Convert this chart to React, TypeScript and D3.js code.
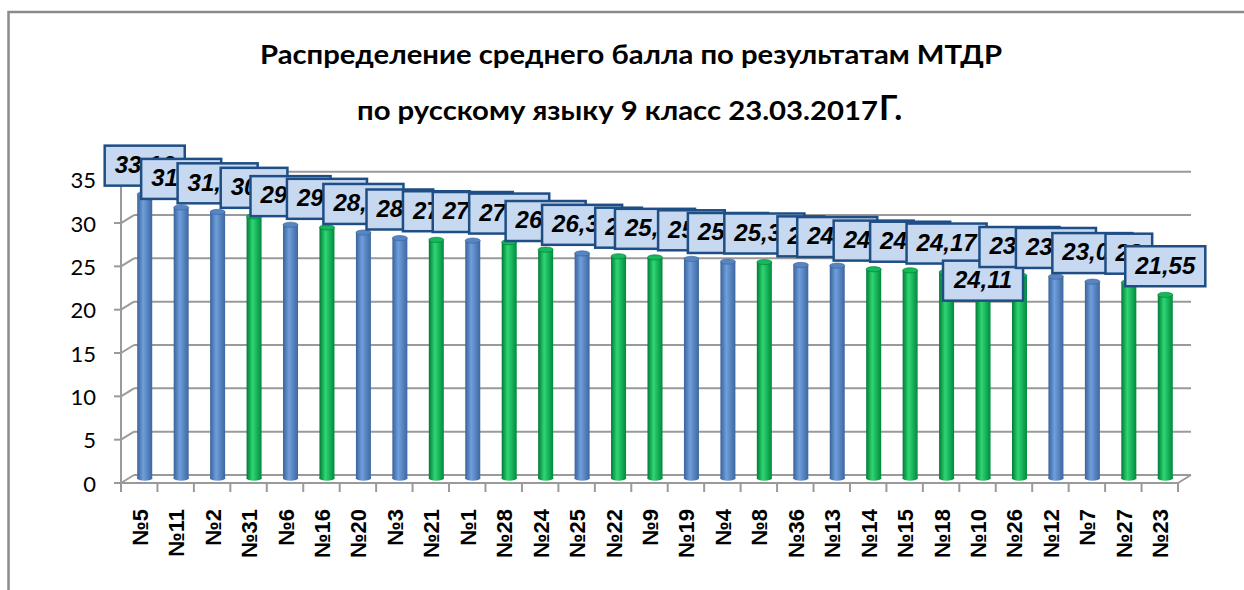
import React from "react";
import * as d3 from "d3";

const titleLine1 = "Распределение среднего балла по результатам МТДР";
const titleLine2 = "по русскому языку 9 класс 23.03.2017";
const titleSuffix = "Г.";

const categories = ["№5","№11","№2","№31","№6","№16","№20","№3","№21","№1","№28","№24","№25","№22","№9","№19","№4","№8","№36","№13","№14","№15","№18","№10","№26","№12","№7","№27","№23"];
const values = [33.16,31.63,31.12,30.6,29.64,29.33,28.74,28.1,27.9,27.81,27.63,26.77,26.33,26,25.87,25.7,25.39,25.33,25,24.92,24.51,24.38,24.17,24.11,23.77,23.66,23.07,23,21.55];
const groups = ["b","b","b","g","b","g","b","b","g","b","g","g","b","g","g","b","b","g","b","b","g","g","g","g","g","b","b","g","g"];
const yTicks = [0,5,10,15,20,25,30,35];
const insideLabels = ["№10"];

const W = 1244, H = 590;
const FS = 24;

function fmt(v: number) {
  return String(v).replace(".", ",");
}
function textW(s: string) {
  let w = 0;
  for (const ch of s) w += ch === "," ? 0.278 * FS : 0.556 * FS;
  return w;
}

export default function App() {
  const left = 121, right = 1178;
  const depthX = 13, depthY = -8;
  const x = d3.scaleBand<string>().domain(categories).range([left, right]).padding(0);
  const yFront = d3.scaleLinear().domain([0, 35]).range([483, 179.7]);
  const yBar = d3.scaleLinear().domain([0, 35]).range([481.6, 178.3]);
  const floorY = yFront(0) + depthY * 0.6;
  const bw = 15;
  const ry = 2.6;
  const barX = (c: string) => (x(c) as number) + x.bandwidth() / 2 + 5.5;
  const gridColor = "#9a9a9a";

  const colors: Record<string, { a: string; b: string; c: string; top: string }> = {
    b: { a: "#3a6299", b: "#6f9fdc", c: "#3d679f", top: "#5785c4" },
    g: { a: "#007a35", b: "#2fd673", c: "#008a3e", top: "#15b85a" },
  };

  return (
    <div style={{ position: "absolute", left: 0, top: 0 }}>
      <svg width={W} height={H} style={{ display: "block", background: "#fff" }}>
        <defs>
          {Object.entries(colors).map(([k, c]) => (
            <linearGradient key={k} id={`grad-${k}`} x1="0" x2="1" y1="0" y2="0">
              <stop offset="0%" stopColor={c.a} />
              <stop offset="40%" stopColor={c.b} />
              <stop offset="100%" stopColor={c.c} />
            </linearGradient>
          ))}
        </defs>
        {/* frame */}
        <path d={`M8.5,${H} L8.5,12 L${W},12`} fill="none" stroke="#8a8a8a" strokeWidth={2.5} />

        {/* title */}
        <text x={631} y={64} textAnchor="middle" fontFamily="Lato, 'Open Sans', sans-serif" fontWeight="bold" fontSize={27} textLength={742} lengthAdjust="spacingAndGlyphs">
          {titleLine1}
        </text>
        <text x={357} y={120} textAnchor="start" fontFamily="Lato, 'Open Sans', sans-serif" fontWeight="bold" fontSize={27} textLength={521} lengthAdjust="spacingAndGlyphs">
          {titleLine2}
        </text>
        <text x={879} y={120} textAnchor="start" fontFamily="Lato, 'Open Sans', sans-serif" fontWeight="bold" fontSize={34}>
          {titleSuffix}
        </text>

        {/* gridlines: side wall diagonals + back wall */}
        {yTicks.map((t) => (
          <g key={t}>
            <line x1={left - 7} x2={left} y1={yFront(t)} y2={yFront(t)} stroke={gridColor} strokeWidth={2} />
            <line x1={left} x2={left + depthX} y1={yFront(t)} y2={yFront(t) + depthY} stroke={gridColor} strokeWidth={2} />
            <line x1={left + depthX} x2={right + depthX} y1={yFront(t) + depthY} y2={yFront(t) + depthY} stroke={gridColor} strokeWidth={2} />
            <text x={96} y={yFront(t) + 3} textAnchor="end" dominantBaseline="middle" fontFamily="Lato, 'Open Sans', sans-serif" fontSize={22} fill="#000">
              {t}
            </text>
          </g>
        ))}
        {/* front axis lines */}
        <line x1={left} x2={left} y1={yFront(0)} y2={yFront(35)} stroke={gridColor} strokeWidth={2} />
        <line x1={left} x2={right} y1={yFront(0)} y2={yFront(0)} stroke={gridColor} strokeWidth={2} />
        <line x1={right} x2={right + depthX} y1={yFront(0)} y2={yFront(0) + depthY} stroke={gridColor} strokeWidth={2} />
        {[...categories.map((c) => x(c) as number), right].map((tx, i) => (
          <line key={i} x1={tx} x2={tx} y1={yFront(0)} y2={yFront(0) + 9} stroke={gridColor} strokeWidth={2} />
        ))}

        {/* bars */}
        {categories.map((c, i) => {
          const cx = barX(c);
          const yt = yBar(values[i]);
          const col = colors[groups[i]];
          return (
            <g key={c}>
              <rect x={cx - bw / 2} y={yt} width={bw} height={floorY - yt} fill={`url(#grad-${groups[i]})`} />
              <ellipse cx={cx} cy={floorY} rx={bw / 2} ry={ry} fill={`url(#grad-${groups[i]})`} />
              <ellipse cx={cx} cy={yt} rx={bw / 2} ry={ry} fill={col.top} stroke={col.a} strokeWidth={0.6} />
            </g>
          );
        })}

        {/* x labels */}
        {categories.map((c) => {
          const cx = (x(c) as number) + x.bandwidth() / 2 + 1;
          return (
            <text key={c} transform={`translate(${cx},509) rotate(-90)`} textAnchor="end" dominantBaseline="central" fontFamily="'Liberation Sans', Arial, sans-serif" fontWeight="bold" fontSize={22} fill="#000">
              {c}
            </text>
          );
        })}

        {/* data labels */}
        {categories.map((c, i) => {
          const s = fmt(values[i]);
          const w = textW(s) + 20;
          const h = 40;
          const cx = barX(c);
          const yt = yBar(values[i]);
          const top = insideLabels.includes(c) ? yt - 12 : yt - ry - 6 - h;
          return (
            <g key={c}>
              <rect x={cx - w / 2} y={top} width={w} height={h} fill="#c6d9f1" stroke="#1f4e85" strokeWidth={2.5} />
              <text x={cx} y={top + h / 2 + 1} textAnchor="middle" dominantBaseline="middle" fontFamily="'Liberation Sans', Arial, sans-serif" fontWeight="bold" fontStyle="italic" fontSize={FS} fill="#000">
                {s}
              </text>
            </g>
          );
        })}
      </svg>
    </div>
  );
}
